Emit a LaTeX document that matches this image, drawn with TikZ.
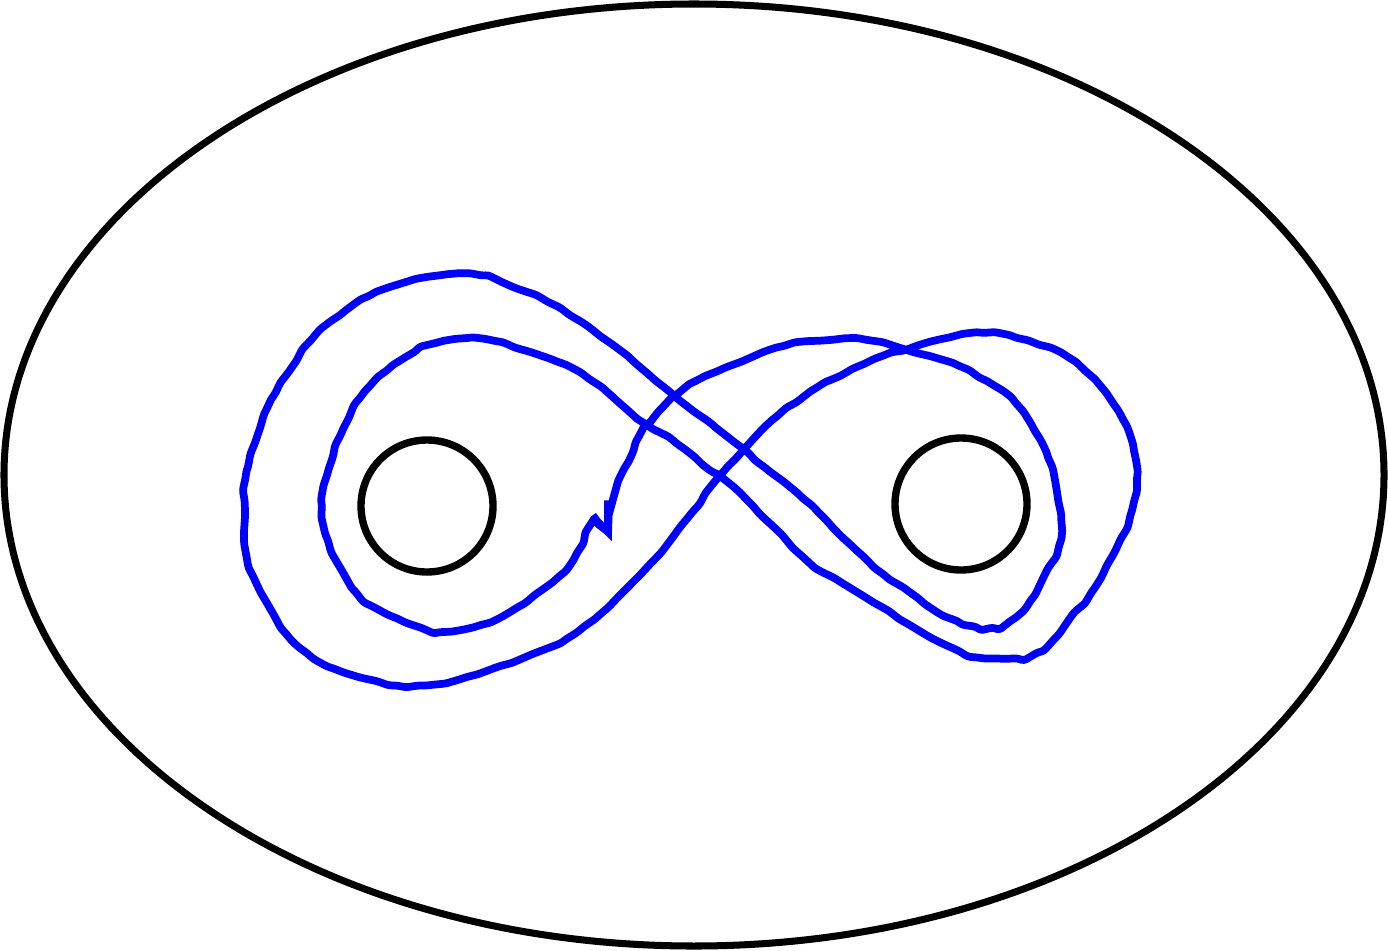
\documentclass[tikz,border=0pt]{standalone}
\usetikzlibrary{decorations.pathmorphing,calc}

\begin{document}
\begin{tikzpicture}[x=0.02cm,y=-0.02cm,
  rim/.style={line width=4pt},
  hole/.style={line width=4.2pt},
  loopline/.style={blue,line width=4.4pt,decorate,
    decoration={random steps,segment length=7pt,amplitude=0.6pt},rounded corners=1.5pt}]
\pgfmathsetseed{11}
\useasboundingbox (0,0) rectangle (1388,950);

\coordinate (lefthole) at (427,506);
\coordinate (righthole) at (961,504);
\coordinate (kinktop) at (608,503);
\coordinate (kinkfoot) at (608,532);
\coordinate (kinktip) at (597,521);

\draw[rim] (694,475) ellipse [x radius=690, y radius=471];
\draw[hole] (lefthole) circle [radius=66];
\draw[hole] (righthole) circle [radius=66];

\draw[loopline] plot[smooth,tension=0.55] coordinates {
  (608,503) (617,483) (627,465) (637,440) (648,425) (660,410) (675,396) (692,383)
  (727,367) (780,347) (830,340) (867,340) (900,348) (933,357) (955,364)
  (990,383) (1013,400) (1033,428) (1047,455) (1056,487) (1061,517) (1060,542)
  (1047,570) (1033,597) (1013,619) (995,627) (978,627) (960,622) (937,612)
  (915,596) (887,577) (853,547) (823,517) (795,491) (768,470) (746,451)
  (720,431) (692,410) (676,397) (647,373) (613,345) (583,323) (550,303)
  (513,287) (485,276) (443,275) (403,283) (373,294) (343,313) (313,338)
  (290,370) (270,402) (256,440) (246,475) (245,515) (246,553) (254,578)
  (267,603) (283,630) (303,650) (330,667) (363,678) (392,685) (430,685)
  (463,678) (497,667) (530,655) (563,641) (597,617) (630,585) (663,550)
  (690,515) (718,478) (746,447) (775,418) (813,390) (840,376) (877,358)
  (905,350) (947,338) (980,333) (1013,337) (1063,354) (1097,382) (1120,414)
  (1133,447) (1137,475) (1131,513) (1114,553) (1093,590) (1073,614)
  (1057,636) (1040,651) (1020,658) (982,658) (957,650) (923,633) (887,610)
  (847,586) (813,566) (780,533) (750,503) (730,484) (715,474) (680,446)
  (650,427) (623,406) (592,381) (563,364) (530,352) (500,342) (470,338)
  (440,342) (418,350) (390,368) (363,394) (342,432) (328,472) (322,503)
  (327,537) (340,567) (354,590) (374,607) (407,623) (437,632) (477,626)
  (513,610) (555,580) (575,556) (587,530) (597,521)}
  -- (608,532) -- cycle;
\draw[blue,line width=4.4pt] (kinktip) -- (kinkfoot) -- (kinktop);
\end{tikzpicture}
\end{document}
